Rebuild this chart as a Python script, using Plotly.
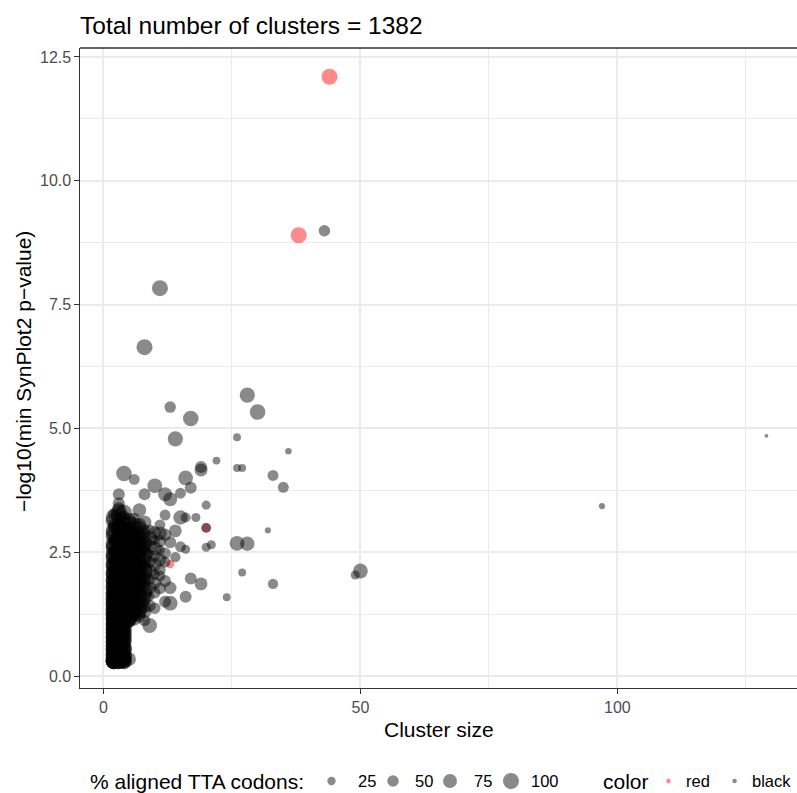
import plotly.graph_objects as go
import math

title_text = "Total number of clusters = 1382"
x_label = "Cluster size"
y_label = "\u2212log10(min SynPlot2 p\u2212value)"
size_legend_title = "% aligned TTA codons:"
size_breaks = [25, 50, 75, 100]
color_legend_title = "color"
color_labels = ["red", "black"]
x_ticks = [0, 50, 100]
y_ticks = [0.0, 2.5, 5.0, 7.5, 10.0, 12.5]

# highlighted clusters (red)
red_size = [44, 38, 13, 20]
red_y = [12.10, 8.90, 2.26, 2.99]
red_pct = [100, 100, 25, 35]

# isolated black clusters: (cluster size, -log10 p, % aligned TTA)
out_pts = [
    (43, 8.99, 50), (11, 7.83, 100), (8, 6.64, 100), (13, 5.43, 50), (17, 5.20, 95),
    (14, 4.79, 90), (28, 5.67, 90), (30, 5.33, 95), (26, 4.82, 22), (36, 4.54, 14),
    (97, 3.43, 12), (129, 4.85, 3), (22, 4.35, 22), (19, 4.16, 65), (19, 4.22, 55),
    (26, 4.20, 22), (27, 4.20, 22), (33, 4.05, 45), (35, 3.81, 45), (20, 3.45, 30),
    (32, 2.94, 12), (20, 2.99, 35), (20, 2.60, 30), (21, 2.65, 30), (26, 2.68, 85),
    (28, 2.67, 80), (27, 2.09, 22), (33, 1.86, 40), (19, 1.86, 63), (24, 1.59, 22),
    (50, 2.12, 85), (49, 2.04, 30), (4, 4.09, 95), (6, 3.97, 45), (10, 3.84, 85),
    (8, 3.67, 55), (12, 3.67, 75), (13, 3.57, 75), (15, 3.69, 45), (16, 4.00, 85),
    (17, 3.80, 55), (3, 3.67, 55), (3, 3.49, 55), (7, 3.35, 73), (12, 3.25, 45),
    (15, 3.20, 80), (16, 3.20, 38), (18, 3.20, 30), (14, 2.93, 63), (15, 2.61, 45),
    (16, 2.56, 30), (17, 1.97, 54), (16, 1.60, 54), (13, 1.47, 85), (9, 1.02, 85),
    (12, 1.92, 54), (11, 1.77, 54), (5, 0.34, 73), (12, 2.48, 50), (12, 2.30, 45),
    (13, 1.78, 60), (10, 1.68, 50), (12, 1.50, 55), (11, 2.14, 50), (14, 2.40, 40),
    (13, 2.70, 55), (12, 2.85, 60),
]

# dense columns of small clusters: (-log10 p, % aligned TTA)
col2 = [(0.30,100),(0.30,50),(0.30,100),(0.30,50),(0.30,100),(0.30,100),(0.32,50),(0.35,100),
        (0.39,50),(0.42,100),(0.46,100),(0.49,50),(0.53,100),(0.56,50),(0.60,100),(0.63,50),
        (0.67,100),(0.70,100),(0.74,50),(0.78,100),(0.81,50),(0.85,100),(0.89,100),(0.92,50),
        (0.96,100),(1.00,50),(1.03,100),(1.07,100),(1.11,50),(1.15,100),(1.18,50),(1.22,100),
        (1.26,100),(1.30,50),(1.34,100),(1.38,50),(1.42,100),(1.47,100),(1.51,50),(1.55,100),
        (1.60,50),(1.64,100),(1.69,100),(1.74,50),(1.79,100),(1.84,50),(1.90,100),(1.95,100),
        (2.01,50),(2.07,100),(2.13,50),(2.20,100),(2.27,100),(2.34,50),(2.42,100),(2.50,50),
        (2.58,100),(2.67,100),(2.77,50),(2.88,100),(3.00,50),(3.13,100),(3.27,50),
        (0.30,50),(0.30,100),(0.31,50),(0.33,100),(0.37,100),(0.40,50),(0.44,100),(0.47,50),
        (0.51,100),(0.55,100),(0.58,50),(0.62,100),(0.65,50),(0.69,100),(0.72,50),(0.76,100),
        (0.80,100),(0.83,50),(0.87,100),(0.90,50),(0.94,100),(0.98,100),(1.02,50),(1.05,100),
        (1.09,50),(1.13,100),(1.17,100),(1.20,50),(1.24,100),(1.28,50),(1.32,100),(1.36,100),
        (1.40,50),(1.45,100),(1.49,50),(1.53,100),(1.58,100),(1.62,50),(1.67,100),(1.72,50),
        (1.77,100),(1.82,100),(1.87,50),(1.93,100),(1.98,50),(2.04,100),(2.10,100),(2.17,50),
        (2.24,100),(2.31,50),(2.38,100),(2.46,100),(2.54,50),(2.62,100),(2.72,50),(2.82,100),
        (2.94,100),(3.06,50),(3.20,100)]
col3 = [(0.30,100),(0.30,67),(0.30,33),(0.30,100),(0.31,67),(0.34,100),(0.38,67),(0.41,33),
        (0.45,100),(0.49,67),(0.52,100),(0.56,33),(0.60,67),(0.63,100),(0.67,100),(0.71,67),
        (0.75,33),(0.79,100),(0.83,67),(0.87,100),(0.91,67),(0.95,100),(0.99,33),(1.03,67),
        (1.07,100),(1.11,67),(1.15,100),(1.20,33),(1.24,67),(1.28,100),(1.33,100),(1.37,67),
        (1.42,33),(1.46,100),(1.51,67),(1.56,100),(1.61,67),(1.66,100),(1.72,33),(1.77,67),
        (1.83,100),(1.89,67),(1.95,100),(2.02,33),(2.08,67),(2.15,100),(2.22,67),(2.30,100),
        (2.38,33),(2.46,67),(2.55,100),(2.64,67),(2.74,100),(2.85,67),(2.97,100),(3.10,67),
        (3.24,100),(3.38,67),
        (0.30,67),(0.30,100),(0.32,33),(0.36,100),(0.40,67),(0.43,100),(0.47,33),(0.50,67),
        (0.54,100),(0.58,67),(0.62,100),(0.65,33),(0.69,67),(0.73,100),(0.77,67),(0.81,100),
        (0.85,33),(0.89,67),(0.93,100),(0.97,67),(1.01,100),(1.05,33),(1.09,67),(1.13,100),
        (1.17,67),(1.22,100),(1.26,33),(1.30,67),(1.35,100),(1.39,67),(1.44,100),(1.49,33),
        (1.53,67),(1.58,100),(1.63,67),(1.69,100),(1.74,33),(1.80,67),(1.86,100),(1.92,67),
        (1.98,100),(2.05,33),(2.11,67),(2.18,100),(2.26,67),(2.34,100),(2.42,33),(2.50,67),
        (2.59,100),(2.69,67),(2.79,100),(2.91,67),(3.03,100),(3.17,33),(3.31,100)]
col4 = [(0.30,100),(0.30,75),(0.30,50),(0.32,25),(0.36,75),(0.41,100),(0.46,50),(0.51,75),
        (0.56,100),(0.62,25),(0.67,75),(0.72,50),(0.78,100),(0.83,75),(0.89,50),(0.94,100),
        (1.00,25),(1.05,75),(1.11,100),(1.17,50),(1.23,75),(1.29,100),(1.35,25),(1.41,75),
        (1.48,50),(1.54,100),(1.61,75),(1.68,50),(1.75,100),(1.82,25),(1.90,75),(1.98,100),
        (2.06,50),(2.14,75),(2.23,100),(2.32,25),(2.42,75),(2.52,100),(2.63,50),(2.75,75),
        (2.88,100),(3.02,50),(3.16,75),(3.30,100),
        (0.30,25),(0.30,100),(0.31,75),(0.34,50),(0.38,100),(0.43,75),(0.48,25),(0.53,100),
        (0.59,75),(0.64,50),(0.70,100),(0.75,75),(0.80,25),(0.86,100),(0.91,75),(0.97,50),
        (1.02,100),(1.08,75),(1.14,25),(1.20,100),(1.26,75),(1.32,50),(1.38,100),(1.44,75),
        (1.51,25),(1.57,100),(1.64,75),(1.71,50),(1.78,100),(1.86,75),(1.94,25),(2.02,100),
        (2.10,75),(2.18,50),(2.27,100),(2.37,75),(2.47,25),(2.57,100),(2.69,75),(2.81,50),
        (2.95,100),(3.09,75),(3.23,50)]
col5 = [(1.10,60),(1.16,100),(1.22,40),(1.29,80),(1.35,100),(1.42,60),(1.49,20),(1.56,100),
        (1.63,80),(1.70,40),(1.77,100),(1.85,60),(1.93,80),(2.01,100),(2.09,40),(2.18,80),
        (2.27,100),(2.36,60),(2.46,20),(2.56,100),(2.66,80),(2.77,60),(2.89,100),(3.02,40),
        (3.15,80),
        (1.13,80),(1.19,100),(1.26,60),(1.32,40),(1.39,100),(1.46,80),(1.53,60),(1.60,100),
        (1.67,20),(1.74,80),(1.81,100),(1.89,60),(1.97,40),(2.05,100),(2.13,80),(2.22,60),
        (2.32,100),(2.41,40),(2.51,80),(2.61,100),(2.72,60),(2.83,80),(2.95,40),(3.08,100)]
col6 = [(1.15,67),(1.27,100),(1.38,50),(1.49,83),(1.60,33),(1.71,100),(1.82,67),(1.93,50),
        (2.03,100),(2.12,83),(2.21,33),(2.30,67),(2.40,100),(2.50,50),(2.60,83),(2.71,100),
        (2.82,67),(2.94,33),(3.06,83),(3.18,50),
        (1.21,50),(1.32,83),(1.44,100),(1.55,67),(1.66,50),(1.77,83),(1.88,100),(1.98,67),
        (2.08,33),(2.17,100),(2.26,83),(2.35,50),(2.45,67),(2.55,100),(2.66,33),(2.77,83),
        (2.88,100),(3.00,67)]
col7 = [(1.20,57),(1.33,86),(1.46,43),(1.58,100),(1.70,71),(1.82,29),(1.93,86),(2.05,57),
        (2.16,100),(2.28,43),(2.40,71),(2.52,86),(2.65,57),(2.78,100),(2.92,43),(3.06,71),
        (1.27,71),(1.40,100),(1.52,57),(1.64,86),(1.76,43),(1.88,71),(1.99,100),(2.10,57),
        (2.22,86),(2.34,71),(2.46,43),(2.58,100),(2.71,71),(2.85,57),(2.99,86)]
col8 = [(1.12,50),(1.30,75),(1.48,38),(1.65,88),(1.80,50),(1.95,63),(2.10,100),(2.24,38),
        (2.38,75),(2.52,50),(2.66,88),(2.80,63),(2.96,38),(3.10,75),
        (1.40,63),(1.57,75),(1.73,100),(1.88,50),(2.03,75),(2.17,88),(2.31,63),(2.45,100),
        (2.59,50),(2.73,75),(2.88,50)]
col9 = [(1.42,56),(1.60,33),(1.78,67),(1.95,44),(2.12,78),(2.30,56),(2.46,33),(2.62,67),
        (2.78,89),(2.95,44)]
col10 = [(1.37,50),(1.88,60),(2.05,40),(2.25,70),(2.42,50),(2.58,80),(2.75,40),(2.90,60)]
col11 = [(2.02,45),(2.35,64),(2.55,36),(2.72,55),(2.88,73),(3.05,45)]
columns = {2: col2, 3: col3, 4: col4, 5: col5, 6: col6, 7: col7, 8: col8,
           9: col9, 10: col10, 11: col11}

# assemble black series
black_size, black_y, black_pct = [], [], []
for cs, pts in columns.items():
    for yv, pv in pts:
        black_size.append(cs)
        black_y.append(yv)
        black_pct.append(pv)
for cs, yv, pv in out_pts:
    black_size.append(cs)
    black_y.append(yv)
    black_pct.append(pv)


def size_scale(p):
    # area-proportional size scale, like ggplot2 scale_size (range 1..6)
    return 2.67 * math.sqrt(1 + 35 * p / 100.0)


ALPHA = 0.46
FONT = "Liberation Sans, Arial, Helvetica, sans-serif"

fig = go.Figure()
fig.add_trace(go.Scatter(
    x=red_size, y=red_y, mode="markers", name="red", showlegend=False,
    marker=dict(color="red", opacity=ALPHA, size=[size_scale(p) for p in red_pct],
                line=dict(width=0)),
    hoverinfo="skip"))
fig.add_trace(go.Scatter(
    x=black_size, y=black_y, mode="markers", name="black", showlegend=False,
    marker=dict(color="black", opacity=ALPHA, size=[size_scale(p) for p in black_pct],
                line=dict(width=0)),
    hoverinfo="skip"))

W, H = 797, 793
L, R, T, B = 80, 0, 48, 105
PW = W - L - R
PH = H - T - B


def px2paper_x(px):
    return (px - L) / PW


def px2paper_y(py):
    return (H - B - py) / PH


grid = "#EBEBEB"
axis_common = dict(
    showline=True, linecolor="#333333", linewidth=1.3,
    ticks="outside", ticklen=4.5, tickwidth=1.1, tickcolor="#333333",
    tickfont=dict(family=FONT, size=16, color="#4D4D4D"),
    showgrid=True, gridcolor=grid, gridwidth=1.7, zeroline=False,
)

fig.update_xaxes(range=[-4.55, -4.55 + PW / 5.14], tickvals=x_ticks,
                 ticktext=[str(v) for v in x_ticks],
                 minor=dict(tickvals=[25, 75, 125], showgrid=True, gridcolor=grid,
                            gridwidth=1.0, ticks=""),
                 **axis_common)
fig.update_yaxes(range=[-0.242, 12.68], tickvals=y_ticks,
                 ticktext=["%.1f" % v for v in y_ticks],
                 minor=dict(tickvals=[1.25, 3.75, 6.25, 8.75, 11.25], showgrid=True,
                            gridcolor=grid, gridwidth=1.0, ticks=""),
                 **axis_common)

annotations = [
    dict(text=x_label, x=0.5, y=px2paper_y(729), xref="paper", yref="paper",
         showarrow=False, xanchor="center", yanchor="middle",
         font=dict(family=FONT, size=21, color="black")),
    dict(text=y_label, x=px2paper_x(23), y=px2paper_y(372), xref="paper", yref="paper",
         showarrow=False, xanchor="center", yanchor="middle", textangle=-90,
         font=dict(family=FONT, size=21, color="black")),
]

legend_row = 781
ly = px2paper_y(legend_row)
annotations.append(dict(text=size_legend_title, x=px2paper_x(88), y=ly, xref="paper",
                        yref="paper", showarrow=False, xanchor="left", yanchor="middle",
                        font=dict(family=FONT, size=21, color="black")))
size_circle_x = [331.5, 393, 450, 511]
size_label_x = [356, 413, 472, 529]
shapes = []
for b, cx, tx in zip(size_breaks, size_circle_x, size_label_x):
    r = size_scale(b) / 2
    shapes.append(dict(type="circle", xref="paper", yref="paper", xsizemode="pixel",
                       ysizemode="pixel", xanchor=px2paper_x(cx), yanchor=ly,
                       x0=-r, x1=r, y0=-r, y1=r,
                       fillcolor="rgba(0,0,0,%.2f)" % ALPHA, line=dict(width=0)))
    annotations.append(dict(text=str(b), x=px2paper_x(tx), y=ly, xref="paper",
                            yref="paper", showarrow=False, xanchor="left",
                            yanchor="middle",
                            font=dict(family=FONT, size=16.5, color="black")))

annotations.append(dict(text=color_legend_title, x=px2paper_x(601), y=ly, xref="paper",
                        yref="paper", showarrow=False, xanchor="left", yanchor="middle",
                        font=dict(family=FONT, size=21, color="black")))
color_dot_x = [668.5, 734.6]
color_label_x = [684, 750]
color_fill = ["rgba(255,0,0,%.2f)" % ALPHA, "rgba(0,0,0,%.2f)" % ALPHA]
for lab, cx, tx, fc in zip(color_labels, color_dot_x, color_label_x, color_fill):
    r = 2.3
    shapes.append(dict(type="circle", xref="paper", yref="paper", xsizemode="pixel",
                       ysizemode="pixel", xanchor=px2paper_x(cx), yanchor=ly,
                       x0=-r, x1=r, y0=-r, y1=r, fillcolor=fc, line=dict(width=0)))
    annotations.append(dict(text=lab, x=px2paper_x(tx), y=ly, xref="paper",
                            yref="paper", showarrow=False, xanchor="left",
                            yanchor="middle",
                            font=dict(family=FONT, size=16.5, color="black")))

# top panel border
shapes.append(dict(type="line", xref="paper", yref="paper", x0=0, x1=1, y0=1, y1=1,
                   line=dict(color="#333333", width=1.3)))

fig.update_layout(
    width=W, height=H, margin=dict(l=L, r=R, t=T, b=B, pad=0),
    paper_bgcolor="white", plot_bgcolor="white",
    title=dict(text=title_text, x=80 / W, xref="container", xanchor="left",
               y=1 - 25 / H, yref="container", yanchor="middle",
               font=dict(family=FONT, size=24.5, color="black")),
    annotations=annotations, shapes=shapes, showlegend=False,
)

fig.write_html("out.html", config={"displayModeBar": False},
               post_script="document.body.style.margin='0';document.body.style.overflow='hidden';")
